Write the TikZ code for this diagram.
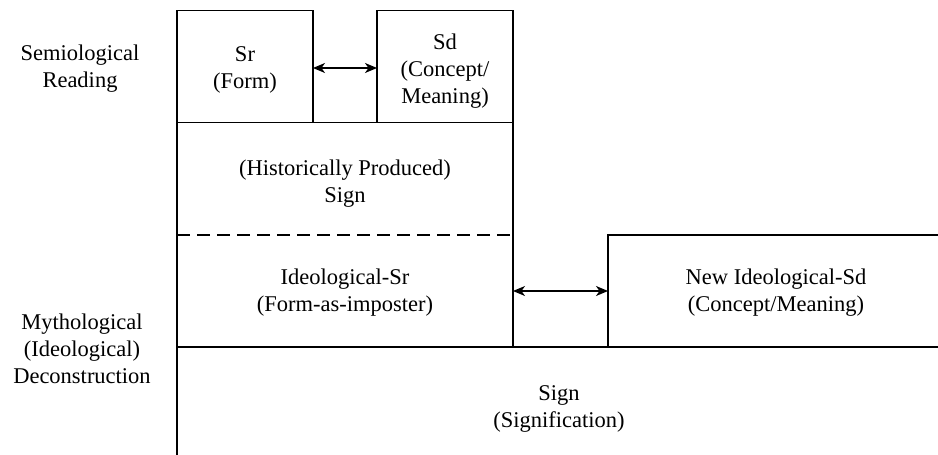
\documentclass[tikz,border=0pt]{standalone}
\usepackage{fontspec}
\setmainfont{Liberation Serif}
\usetikzlibrary{arrows.meta}
\begin{document}
\begin{tikzpicture}[x=1pt,y=-1pt,
  every node/.style={font=\fontsize{22.5}{27}\selectfont, align=center, inner sep=0pt, outer sep=0pt},
  region/.style={rectangle, draw=none, inner sep=0pt},
  rule/.style={line width=1.2pt, line cap=rect},
  dashrule/.style={line width=1.2pt, dash pattern=on 13pt off 7pt},
  link/.style={line width=1.1pt, {Stealth[length=12pt,width=10pt,inset=3.5pt]}-{Stealth[length=12pt,width=10pt,inset=3.5pt]}}
]
\useasboundingbox (0,0) rectangle (938,455);
% regions
\node[region, minimum width=136, minimum height=112] (sr) at (245,66.5) {};
\node[region, minimum width=136, minimum height=112] (sd) at (445,66.5) {};
\node[region, minimum width=336, minimum height=112.5] (hist) at (345,178.75) {};
\node[region, minimum width=336, minimum height=112] (ideo) at (345,291) {};
\node[region, minimum width=330, minimum height=112] (newsd) at (773,291) {};
\node[region, minimum width=761, minimum height=108] (signif) at (557.5,401) {};
% texts
\node (srtext) at (245,69.5) {\strut Sr\\(Form)\strut};
\node (sdtext) at (445,71) {\strut Sd\\(Concept/\\Meaning)\strut};
\node (histtext) at (345,184) {\strut(Historically Produced)\\Sign\strut};
\node (ideotext) at (345,293) {\strut Ideological-Sr\\(Form-as-imposter)\strut};
\node (newsdtext) at (776,293) {\strut New Ideological-Sd\\(Concept/Meaning)\strut};
\node (signiftext) at (559,408.5) {\strut Sign\\(Signification)\strut};
\node (semread) at (80,68.5) {\strut Semiological\\Reading\strut};
\node (myth) at (82,351.5) {\strut Mythological\\(Ideological)\\Deconstruction\strut};
% borders
\draw[rule] (sr.south west) rectangle (sr.north east);
\draw[rule] (sd.south west) rectangle (sd.north east);
\draw[rule] (hist.north west) -- (hist.north east);
\draw[rule] (hist.south west) -- (hist.north west);
\draw[rule] (hist.south east) -- (hist.north east);
\draw[dashrule] (hist.south west) -- (hist.south east);
\draw[rule] (ideo.north west) -- (ideo.south west);
\draw[rule] (ideo.north east) -- (ideo.south east);
\draw[rule] (newsd.north east) -- (newsd.north west) -- (newsd.south west);
\draw[rule] (signif.south west) -- (signif.north west) -- (signif.north east);
% connectors
\draw[link] ([yshift=-1.5pt]sr.east) -- ([yshift=-1.5pt]sd.west);
\draw[link] (ideo.east) -- (newsd.west);
\end{tikzpicture}
\end{document}
